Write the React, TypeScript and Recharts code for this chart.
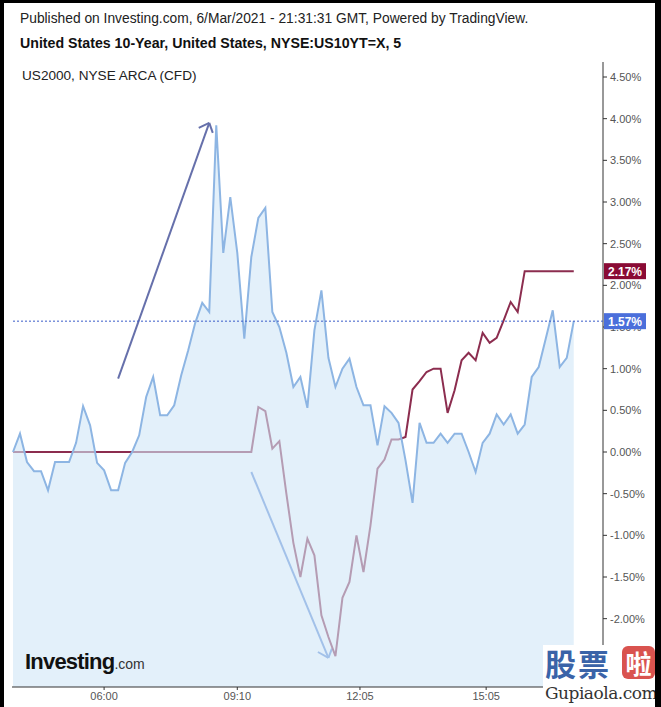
import React from 'react';
import {
  Area,
  ComposedChart,
  Line,
  ReferenceLine,
  XAxis,
  YAxis
} from 'recharts';

// 10-minute steps, session time (GMT)
const times = [
  '03:50', '04:00', '04:10', '04:20', '04:30', '04:40', '04:50', '05:00', '05:10', '05:20',
  '05:30', '05:40', '05:50', '06:00', '06:10', '06:20', '06:30', '06:40', '06:50', '07:00',
  '07:10', '07:20', '07:30', '07:40', '07:50', '08:00', '08:10', '08:20', '08:30', '08:40',
  '08:50', '09:00', '09:10', '09:20', '09:30', '09:40', '09:50', '10:00', '10:10', '10:20',
  '10:30', '10:40', '10:50', '11:00', '11:10', '11:20', '11:30', '11:40', '11:50', '12:00',
  '12:10', '12:20', '12:30', '12:40', '12:50', '13:00', '13:10', '13:20', '13:30', '13:40',
  '13:50', '14:00', '14:10', '14:20', '14:30', '14:40', '14:50', '15:00', '15:10', '15:20',
  '15:30', '15:40', '15:50', '16:00', '16:10', '16:20', '16:30', '16:40', '16:50', '17:00',
  '17:10'
];

// US2000 % change
const us2000 = [
  0.0, 0.22, -0.12, -0.23, -0.23, -0.46, -0.12, -0.12, -0.12, 0.11,
  0.55, 0.32, -0.13, -0.22, -0.46, -0.46, -0.13, 0.0, 0.2, 0.66,
  0.9, 0.44, 0.44, 0.56, 0.92, 1.22, 1.55, 1.79, 1.68, 3.92,
  2.39, 3.06, 2.39, 1.36, 2.34, 2.81, 2.93, 1.68, 1.5, 1.19,
  0.78, 0.9, 0.53, 1.46, 1.94, 1.13, 0.78, 1.0, 1.12, 0.78,
  0.56, 0.56, 0.08, 0.55, 0.47, 0.35, -0.1, -0.61, 0.35, 0.11,
  0.11, 0.22, 0.11, 0.22, 0.22, 0.0, -0.24, 0.11, 0.22, 0.45,
  0.33, 0.45, 0.22, 0.33, 0.9, 1.02, 1.36, 1.7, 1.02, 1.13,
  1.57
];

// US 10-year yield % change
const us10y = [
  0, 0, 0, 0, 0, 0, 0, 0, 0, 0,
  0, 0, 0, 0, 0, 0, 0, 0, 0, 0,
  0, 0, 0, 0, 0, 0, 0, 0, 0, 0,
  0, 0, 0, 0, 0, 0.54, 0.49, 0.04, 0.13, -0.5,
  -1.09, -1.5, -1.04, -1.24, -1.96, -2.22, -2.45, -1.75, -1.56, -1.0,
  -1.44, -0.88, -0.2, -0.09, 0.15, 0.15, 0.18, 0.75, 0.85, 0.96,
  1.0, 1.0, 0.47, 0.74, 1.1, 1.19, 1.1, 1.43, 1.31, 1.37,
  1.58, 1.8, 1.68, 2.17, 2.17, 2.17, 2.17, 2.17, 2.17, 2.17,
  2.17
];

const xTicks = ['06:00', '09:10', '12:05', '15:05'];
const yTicks = [-2, -1.5, -1, -0.5, 0, 0.5, 1, 1.5, 2, 2.5, 3, 3.5, 4, 4.5];

// drawn annotations (time, %)
const arrowUp = [
  ['06:20', 0.88, '08:30', 3.95],
  ['08:15', 3.89, '08:30', 3.95],
  ['08:35', 3.83, '08:30', 3.95]
];
const arrowDown = [
  ['09:30', -0.24, '11:20', -2.47],
  ['11:05', -2.4, '11:20', -2.47],
  ['11:25', -2.36, '11:20', -2.47]
];

const toMin = (s: string) => {
  const [h, m] = s.split(':').map(Number);
  return h * 60 + m;
};
const fmtTime = (v: number) =>
  `${String(Math.floor(v / 60)).padStart(2, '0')}:${String(v % 60).padStart(2, '0')}`;

const data = times.map((t, i) => ({ t: toMin(t), us2000: us2000[i], us10y: us10y[i] }));

const FONT = 'Arial, "Liberation Sans", sans-serif';

const PriceTag = ({ viewBox, text, fill }: any) => {
  const x = viewBox.x + viewBox.width;
  const y = viewBox.y;
  return (
    <g>
      <rect x={x + 1} y={y - 8} width={42} height={16} fill={fill} />
      <text x={x + 5} y={y + 4.5} fill="#fff" fontSize={12} fontWeight="bold" fontFamily={FONT}>
        {text}
      </text>
    </g>
  );
};

const App = () => {
  return (
    <div
      style={{
        position: 'absolute',
        left: 0,
        top: 0,
        width: 661,
        height: 707,
        background: '#fff',
        overflow: 'hidden',
        fontFamily: FONT
      }}
    >
      <ComposedChart
        width={661}
        height={707}
        data={data}
        margin={{ top: 62, right: 0, left: 12, bottom: 0 }}
      >
        <XAxis
          dataKey="t"
          type="number"
          domain={[228.6, 1071.7]}
          ticks={xTicks.map(toMin)}
          tickFormatter={fmtTime}
          stroke="#333"
          tickSize={3}
          tick={{ fill: '#555', fontSize: 11, fontFamily: FONT }}
          height={20}
          allowDataOverflow
        />
        <YAxis
          orientation="right"
          type="number"
          domain={[-2.82, 4.68]}
          ticks={yTicks}
          tickFormatter={(v: number) => `${v.toFixed(2)}%`}
          stroke="#333"
          tickSize={4}
          tickMargin={3}
          tick={{ fill: '#555', fontSize: 11, fontFamily: FONT }}
          width={58}
          allowDataOverflow
        />
        {arrowDown.map((a, i) => (
          <ReferenceLine
            key={'d' + i}
            segment={[{ x: toMin(a[0] as string), y: a[1] }, { x: toMin(a[2] as string), y: a[3] }]}
            stroke="#5e8ad4"
            strokeWidth={2}
            zIndex={40}
          />
        ))}
        <Line
          dataKey="us10y"
          type="linear"
          stroke="#8c2d4f"
          strokeWidth={2}
          dot={false}
          zIndex={50}
          isAnimationActive={false}
        />
        <Area
          dataKey="us2000"
          type="linear"
          stroke="#8db5e3"
          strokeWidth={2}
          fill="#d0e6f7"
          fillOpacity={0.6}
          baseValue="dataMin"
          dot={false}
          zIndex={100}
          isAnimationActive={false}
        />
        {arrowUp.map((a, i) => (
          <ReferenceLine
            key={'u' + i}
            segment={[{ x: toMin(a[0] as string), y: a[1] }, { x: toMin(a[2] as string), y: a[3] }]}
            stroke="#6670ab"
            strokeWidth={2}
            zIndex={300}
          />
        ))}
        <ReferenceLine
          y={1.57}
          stroke="#3a5bc8"
          strokeDasharray="2 2"
          strokeWidth={1}
          zIndex={2000}
          label={(p: any) => <PriceTag {...p} text="1.57%" fill="#4b6fdb" />}
        />
        <ReferenceLine
          y={2.17}
          stroke="none"
          zIndex={2000}
          label={(p: any) => <PriceTag {...p} text="2.17%" fill="#8a0b35" />}
        />
      </ComposedChart>

      <div style={{ position: 'absolute', left: 20, top: 11, fontSize: 13.8, color: '#222', whiteSpace: 'nowrap' }}>
        Published on Investing.com, 6/Mar/2021 - 21:31:31 GMT, Powered by TradingView.
      </div>
      <div style={{ position: 'absolute', left: 20, top: 35, fontSize: 14.2, fontWeight: 'bold', color: '#111', whiteSpace: 'nowrap' }}>
        United States 10-Year, United States, NYSE:US10YT=X, 5
      </div>
      <div style={{ position: 'absolute', left: 22, top: 68, fontSize: 13.6, color: '#222', whiteSpace: 'nowrap' }}>
        US2000, NYSE ARCA (CFD)
      </div>

      <div style={{ position: 'absolute', left: 25, top: 649, whiteSpace: 'nowrap', color: '#111' }}>
        <span style={{ fontSize: 22, fontWeight: 'bold', letterSpacing: -0.8 }}>Investing</span>
        <span style={{ fontSize: 14, color: '#333' }}>.com</span>
      </div>

      <div style={{ position: 'absolute', left: 543, top: 645, width: 112, height: 62, background: '#fff' }}>
        <div style={{ position: 'absolute', left: 2, top: 1, fontSize: 31, fontWeight: 'bold', color: '#3a63a8', fontFamily: '"Noto Sans CJK SC"', lineHeight: '34px', letterSpacing: 2 }}>
          股票
        </div>
        <div style={{ position: 'absolute', left: 79, top: 1, width: 33, height: 33, background: '#d9534f', borderRadius: 6, color: '#fff', fontSize: 26, fontWeight: 'bold', textAlign: 'center', lineHeight: '33px', fontFamily: '"Noto Sans CJK SC"' }}>
          啦
        </div>
        <div style={{ position: 'absolute', left: 2, top: 38, fontSize: 17, color: '#333', fontFamily: '"DejaVu Serif", serif', whiteSpace: 'nowrap', letterSpacing: -0.5 }}>
          Gupiaola.com
        </div>
      </div>

      <div style={{ position: 'absolute', left: 0, top: 0, width: 4, height: 707, background: '#000' }} />
      <div style={{ position: 'absolute', left: 0, top: 0, width: 661, height: 3, background: '#000' }} />
      <div style={{ position: 'absolute', left: 655, top: 0, width: 6, height: 707, background: '#000' }} />
    </div>
  );
};

export default App;
